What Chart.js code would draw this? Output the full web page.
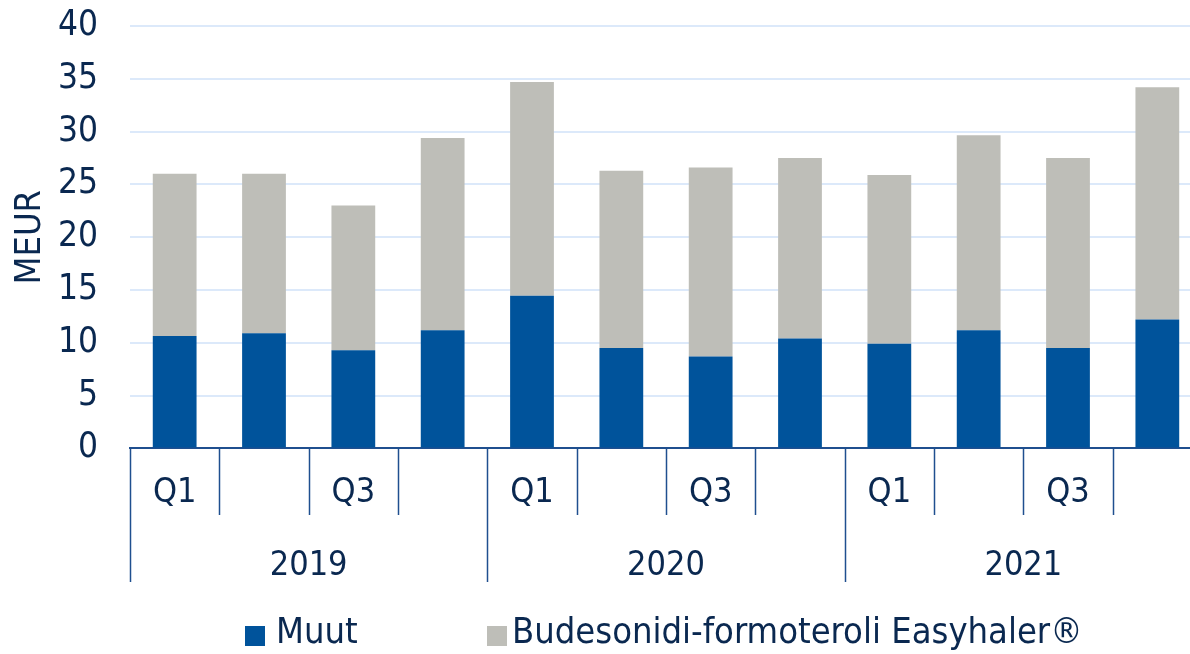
<!DOCTYPE html>
<html>
<head>
<meta charset="utf-8">
<script src="https://cdn.jsdelivr.net/npm/chart.js@4/dist/chart.umd.min.js"></script>
<style>
html,body{margin:0;padding:0;background:#fff;overflow:hidden;}
canvas{display:block;}
</style>
</head>
<body>
<canvas id="c" width="1202" height="654"></canvas>
<script>
const quarterLabels = ['Q1','','Q3','','Q1','','Q3','','Q1','','Q3',''];
const yearLabels = ['2019','2020','2021'];
const muut = [10.65, 10.9, 9.3, 11.2, 14.45, 9.5, 8.7, 10.4, 9.9, 11.2, 9.5, 12.2];
const budesonidi = [15.35, 15.1, 13.7, 18.2, 20.25, 16.8, 17.9, 17.1, 16.0, 18.45, 18.0, 22.0];
const seriesNames = ['Muut', 'Budesonidi-formoteroli Easyhaler®'];
const yTicks = [0, 5, 10, 15, 20, 25, 30, 35, 40];

const FONT = "'DejaVu Sans Condensed', 'DejaVu Sans', sans-serif";
const TXT = '#0a2850';
const LINE = '#1f4f8f';
const BLUE = '#00539b';
const GRAY = '#bebeb8';

const separators = {
  id: 'separators',
  afterDraw(chart) {
    const ctx = chart.ctx;
    const xs = chart.scales.x;
    const n = quarterLabels.length;
    const w = (xs.right - xs.left) / n;
    const top = chart.chartArea.bottom;
    ctx.save();
    ctx.strokeStyle = LINE;
    ctx.lineWidth = 1.5;
    for (let i = 0; i <= n; i++) {
      const x = Math.round(xs.left + i * w) + 0.5;
      const bottom = (i % 4 === 0) ? 582 : 515;
      ctx.beginPath();
      ctx.moveTo(x, top);
      ctx.lineTo(x, bottom);
      ctx.stroke();
    }
    ctx.restore();
  }
};

const customLegend = {
  id: 'customLegend',
  afterDraw(chart) {
    const ctx = chart.ctx;
    const items = [
      {x: 245, tx: 276, color: BLUE, text: chart.data.datasets[0].label},
      {x: 487, tx: 512, color: GRAY, text: chart.data.datasets[1].label}
    ];
    ctx.save();
    ctx.font = "36px " + FONT;
    ctx.textBaseline = 'middle';
    ctx.textAlign = 'left';
    items.forEach(it => {
      ctx.fillStyle = it.color;
      ctx.fillRect(it.x, 626, 20, 20);
      ctx.fillStyle = TXT;
      ctx.fillText(it.text, it.tx, 634);
    });
    ctx.restore();
  }
};

new Chart(document.getElementById('c'), {
  type: 'bar',
  data: {
    labels: quarterLabels,
    datasets: [
      {label: seriesNames[0], data: muut, backgroundColor: BLUE, stack: 's', xAxisID: 'x'},
      {label: seriesNames[1], data: budesonidi, backgroundColor: GRAY, stack: 's', xAxisID: 'x'}
    ]
  },
  options: {
    responsive: false,
    animation: false,
    devicePixelRatio: 1,
    layout: {padding: {top: 26, right: 0, bottom: 58, left: 0}},
    datasets: {bar: {categoryPercentage: 1.0, barPercentage: 0.49}},
    plugins: {
      legend: {display: false},
      tooltip: {enabled: false}
    },
    scales: {
      x: {
        type: 'category',
        stacked: true,
        position: 'bottom',
        grid: {display: false, drawTicks: false},
        border: {display: true, color: LINE, width: 2},
        ticks: {color: TXT, font: {family: FONT, size: 34}, padding: 24, maxRotation: 0, autoSkip: false},
        afterFit(scale) { scale.paddingLeft = 0; scale.paddingRight = 0; }
      },
      x2: {
        type: 'category',
        labels: yearLabels,
        position: 'bottom',
        offset: true,
        grid: {display: false, drawTicks: false},
        border: {display: false},
        ticks: {color: TXT, font: {family: FONT, size: 34}, padding: 9, maxRotation: 0, autoSkip: false},
        afterFit(scale) { scale.paddingLeft = 0; scale.paddingRight = 0; }
      },
      y: {
        stacked: true,
        min: 0,
        max: 40,
        afterBuildTicks(scale) { scale.ticks = yTicks.map(v => ({value: v})); },
        afterFit(scale) { scale.width = 130; scale.paddingTop = 0; scale.paddingBottom = 0; },
        grid: {color: '#dce9fa', lineWidth: 2, drawTicks: false},
        border: {display: false},
        ticks: {color: TXT, font: {family: FONT, size: 35}, padding: 32},
        title: {display: true, text: 'MEUR', color: TXT, font: {family: FONT, size: 36}, padding: {top: 9, bottom: 0}}
      }
    }
  },
  plugins: [separators, customLegend]
});
</script>
</body>
</html>
